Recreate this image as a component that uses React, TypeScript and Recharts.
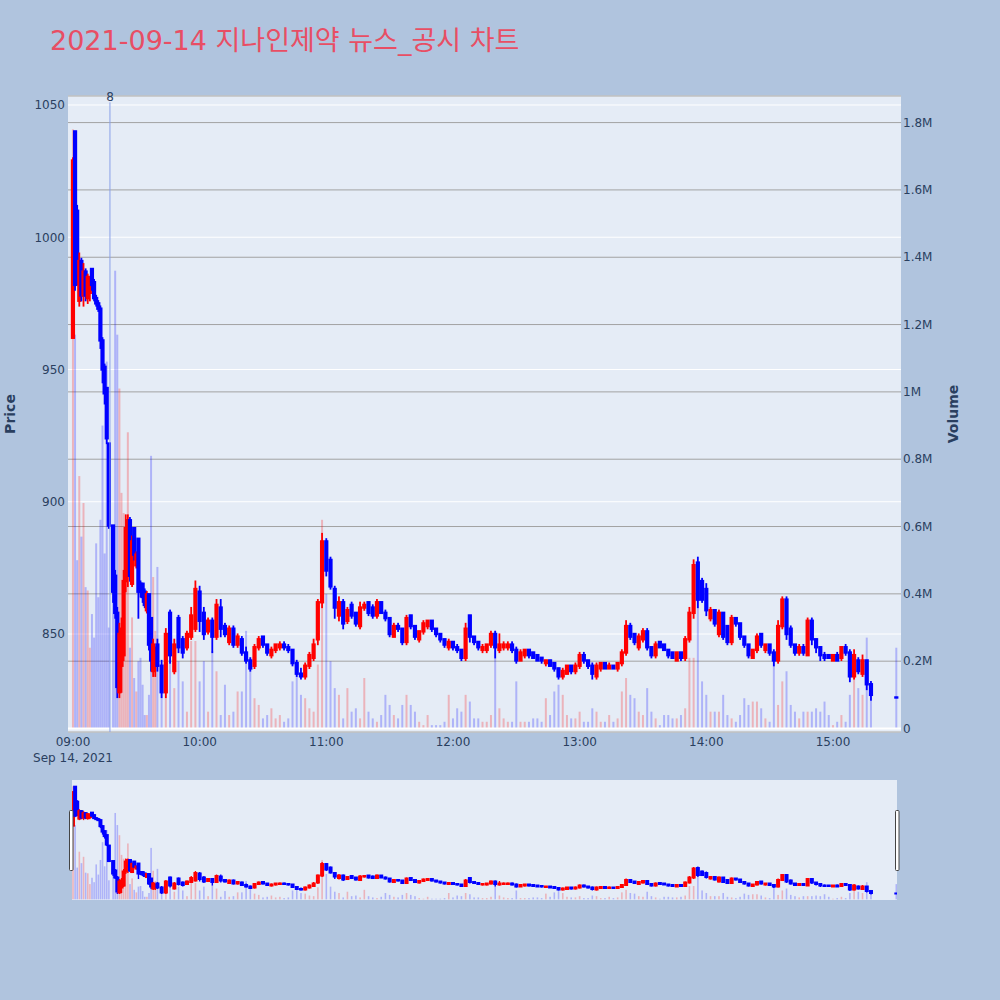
import { Bar, CartesianGrid, ComposedChart, ReferenceLine, XAxis, YAxis } from "recharts";

// minutes after 09:00 (1-min bars through the opening swing, 2-min bars after, 15:30 closing auction)
const minutes = [
  0, 1, 2, 3, 4, 5, 6, 7, 8, 9, 10, 11, 12, 13, 14, 15, 16, 17,
  19, 20, 21, 22, 23, 24, 25, 26, 27, 28, 29, 30, 31, 32, 33, 34, 35, 36, 37, 38, 39,
  40, 42, 44, 46, 48, 50, 52, 54, 56, 58,
  60, 62, 64, 66, 68, 70, 72, 74, 76, 78,
  80, 82, 84, 86, 88, 90, 92, 94, 96, 98,
  100, 102, 104, 106, 108, 110, 112, 114, 116, 118,
  120, 122, 124, 126, 128, 130, 132, 134, 136, 138,
  140, 142, 144, 146, 148, 150, 152, 154, 156, 158,
  160, 162, 164, 166, 168, 170, 172, 174, 176, 178,
  180, 182, 184, 186, 188, 190, 192, 194, 196, 198,
  200, 202, 204, 206, 208, 210, 212, 214, 216, 218,
  220, 222, 224, 226, 228, 230, 232, 234, 236, 238,
  240, 242, 244, 246, 248, 250, 252, 254, 256, 258,
  260, 262, 264, 266, 268, 270, 272, 274, 276, 278,
  280, 282, 284, 286, 288, 290, 292, 294, 296, 298,
  300, 302, 304, 306, 308, 310, 312, 314, 316, 318,
  320, 322, 324, 326, 328, 330, 332, 334, 336, 338,
  340, 342, 344, 346, 348, 350, 352, 354, 356, 358,
  360, 362, 364, 366, 368, 370, 372, 374, 376, 378,
  390,
];

const open = [
  962, 1040, 1010, 976, 991, 978, 987, 977, 979, 988, 983, 977, 975, 973, 961, 951, 943, 922,
  891, 872, 858, 828, 838, 842, 870, 880, 893, 869, 890, 876, 886, 869, 869, 866, 859, 865, 856, 836, 838,
  846, 838, 828, 858, 836, 856, 848, 845, 849, 852,
  866, 858, 851, 855, 849, 860, 853, 847, 852, 846,
  848, 843, 840, 838, 845, 849, 846, 842, 844, 845,
  846, 845, 844, 839, 835, 834, 838, 841, 848, 862,
  885, 878, 867, 857, 862, 855, 861, 858, 853, 860,
  862, 860, 857, 862, 858, 856, 849, 853, 852, 847,
  857, 853, 848, 851, 853, 855, 852, 850, 848, 845,
  847, 845, 844, 841, 857, 849, 847, 844, 844, 846,
  850, 844, 845, 845, 846, 844, 840, 842, 844, 843,
  842, 841, 839, 840, 839, 837, 834, 835, 838, 836,
  838, 842, 840, 838, 834, 837, 839, 837, 838, 837,
  839, 843, 853, 850, 845, 848, 851, 845, 842, 847,
  846, 844, 843, 840, 843, 841, 848, 858, 877, 870,
  867, 856, 859, 850, 858, 853, 847, 856, 854, 849,
  846, 841, 844, 850, 844, 846, 843, 840, 853, 863,
  852, 846, 843, 845, 842, 855, 848, 845, 842, 842,
  840, 842, 841, 845, 843, 834, 840, 835, 840, 831,
  826,
];

const high = [
  1030, 1040, 1012, 994, 992, 990, 988, 986, 985, 988, 984, 978, 976, 974, 962, 952, 943, 922,
  891, 874, 860, 854, 856, 874, 895, 895, 894, 887, 890, 881, 886, 870, 869, 867, 866, 865, 856, 848, 845,
  848, 840, 852, 859, 848, 857, 849, 851, 860, 870,
  868, 860, 856, 856, 863, 863, 854, 853, 853, 850,
  849, 845, 841, 846, 849, 849, 846, 845, 846, 847,
  847, 846, 844, 840, 837, 839, 843, 848, 863, 888,
  886, 879, 868, 864, 863, 860, 862, 858, 862, 862,
  862, 861, 863, 862, 859, 856, 854, 854, 852, 857,
  857, 853, 851, 855, 855, 855, 852, 850, 848, 848,
  847, 846, 844, 854, 857, 849, 847, 846, 846, 851,
  851, 850, 847, 847, 847, 845, 844, 844, 844, 843,
  842, 841, 840, 840, 839, 837, 837, 838, 838, 839,
  843, 843, 840, 839, 839, 839, 839, 839, 838, 839,
  844, 855, 854, 850, 850, 852, 852, 845, 847, 847,
  846, 844, 843, 843, 843, 849, 860, 878, 879, 871,
  869, 860, 859, 859, 858, 853, 857, 856, 854, 849,
  846, 844, 850, 850, 846, 846, 844, 855, 864, 864,
  853, 846, 846, 846, 856, 856, 848, 845, 843, 842,
  842, 843, 845, 846, 844, 844, 841, 842, 840, 832,
  826,
];

const low = [
  962, 980, 982, 974, 976, 974, 976, 975, 976, 980, 976, 974, 972, 958, 945, 937, 922, 890,
  862, 856, 826, 826, 828, 840, 866, 868, 870, 868, 878, 875, 856, 864, 862, 860, 858, 844, 836, 834, 834,
  836, 826, 826, 839, 835, 843, 841, 844, 848, 851,
  851, 848, 850, 843, 848, 849, 849, 846, 845, 845,
  842, 839, 836, 837, 844, 845, 842, 841, 843, 844,
  844, 843, 838, 834, 833, 833, 837, 840, 846, 860,
  872, 867, 856, 855, 852, 854, 856, 853, 852, 859,
  857, 856, 856, 858, 855, 849, 849, 851, 846, 846,
  852, 848, 847, 850, 852, 851, 849, 847, 845, 844,
  844, 843, 840, 840, 847, 846, 844, 843, 843, 845,
  841, 843, 844, 844, 843, 839, 840, 841, 841, 841,
  840, 839, 838, 838, 836, 833, 833, 835, 835, 835,
  837, 839, 837, 833, 833, 836, 837, 837, 837, 836,
  838, 842, 848, 846, 844, 847, 844, 841, 841, 845,
  844, 841, 841, 840, 840, 840, 847, 856, 860, 862,
  857, 855, 853, 849, 848, 846, 846, 853, 848, 845,
  841, 841, 843, 845, 843, 842, 838, 839, 852, 848,
  845, 842, 842, 842, 842, 846, 843, 840, 840, 841,
  840, 840, 840, 842, 832, 833, 835, 834, 829, 825,
  826,
];

const close = [
  1029, 982, 985, 991, 978, 987, 978, 985, 983, 982, 977, 975, 973, 961, 950, 941, 924, 891,
  866, 858, 830, 850, 852, 870, 890, 893, 872, 885, 880, 880, 866, 866, 864, 861, 865, 846, 840, 846, 843,
  838, 828, 850, 842, 846, 845, 843, 850, 857, 867,
  855, 850, 855, 849, 861, 852, 850, 852, 846, 849,
  843, 840, 837, 845, 848, 846, 843, 844, 846, 846,
  845, 844, 839, 835, 834, 838, 842, 846, 862, 885,
  874, 868, 860, 862, 854, 859, 857, 854, 860, 861,
  858, 857, 862, 858, 856, 850, 853, 852, 847, 856,
  853, 849, 851, 854, 855, 852, 850, 848, 846, 847,
  845, 844, 841, 852, 849, 847, 845, 845, 846, 850,
  845, 846, 846, 846, 844, 840, 843, 844, 842, 841,
  840, 840, 840, 838, 837, 834, 836, 838, 836, 838,
  842, 840, 838, 835, 838, 839, 837, 838, 837, 839,
  843, 853, 849, 847, 849, 851, 845, 842, 846, 845,
  844, 842, 841, 843, 841, 848, 858, 876, 863, 863,
  859, 859, 854, 858, 849, 847, 856, 854, 849, 846,
  842, 844, 849, 846, 846, 843, 840, 853, 863, 850,
  846, 843, 845, 843, 855, 848, 845, 842, 841, 841,
  842, 840, 845, 843, 834, 842, 836, 840, 831, 827,
  826,
];

// volume in millions of shares
const volume = [
  1.78, 1.17, 0.5, 0.75, 0.57, 0.67, 0.42, 0.41, 0.24, 0.34, 0.27, 0.55, 0.39, 0.62, 0.9, 0.52, 1.09, 0.3,
  0.45, 1.36, 1.17, 1.01, 0.7, 0.64, 0.5, 0.88, 0.24, 0.33, 0.15, 0.11, 0.2, 0.21, 0.13, 0.04, 0.04, 0.1, 0.81, 0.45, 0.29,
  0.48, 0.17, 0.14, 0.3, 0.12, 0.2, 0.14, 0.05, 0.26, 0.26,
  0.14, 0.2, 0.05, 0.23, 0.17, 0.04, 0.13, 0.04, 0.05, 0.11,
  0.11, 0.29, 0.21, 0.09, 0.07, 0.03, 0.04, 0.06, 0.03, 0.04,
  0.02, 0.03, 0.14, 0.17, 0.1, 0.09, 0.06, 0.05, 0.19, 0.62,
  0.4, 0.2, 0.12, 0.1, 0.03, 0.12, 0.05, 0.06, 0.03, 0.15,
  0.05, 0.03, 0.02, 0.04, 0.1, 0.07, 0.04, 0.03, 0.07, 0.1,
  0.07, 0.05, 0.02, 0.01, 0.04, 0.01, 0.01, 0.01, 0.02, 0.1,
  0.03, 0.06, 0.05, 0.1, 0.08, 0.03, 0.03, 0.02, 0.02, 0.04,
  0.29, 0.06, 0.03, 0.02, 0.02, 0.14, 0.02, 0.02, 0.02, 0.03,
  0.03, 0.02, 0.09, 0.04, 0.11, 0.13, 0.1, 0.04, 0.03, 0.03,
  0.05, 0.02, 0.02, 0.06, 0.05, 0.02, 0.02, 0.04, 0.02, 0.03,
  0.11, 0.15, 0.1, 0.09, 0.05, 0.04, 0.12, 0.05, 0.03, 0.01,
  0.04, 0.04, 0.03, 0.03, 0.04, 0.06, 0.21, 0.21, 0.4, 0.14,
  0.1, 0.05, 0.05, 0.05, 0.1, 0.04, 0.03, 0.02, 0.04, 0.09,
  0.07, 0.08, 0.08, 0.06, 0.03, 0.02, 0.2, 0.07, 0.14, 0.17,
  0.07, 0.05, 0.03, 0.05, 0.05, 0.05, 0.06, 0.05, 0.08, 0.04,
  0.01, 0.02, 0.04, 0.02, 0.1, 0.15, 0.12, 0.1, 0.27, 0.1,
  0.24,
];

const priceTicks = [850, 900, 950, 1000, 1050];
const volumeTicks = [0, 0.2, 0.4, 0.6, 0.8, 1, 1.2, 1.4, 1.6, 1.8];
const timeTicks = [0, 60, 120, 180, 240, 300, 360];
const newsMinute = 17.5;
const newsLabel = "8";

const PRICE_DOMAIN: [number, number] = [812.95, 1053.4];
const VOL_DOMAIN: [number, number] = [-0.0104, 1.879];
const UP = "#ff0000";
const DOWN = "#0000ff";
const INK = "#2a3f5f";
const FONT = "'DejaVu Sans', 'Noto Sans CJK KR', sans-serif";

const rows = minutes.map((t, i) => ({
  t,
  open: open[i],
  high: high[i],
  low: low[i],
  close: close[i],
  range: [low[i], high[i]],
  vol: volume[i],
  up: close[i] > open[i],
}));

function hhmm(m: number) {
  const h = 9 + Math.floor(m / 60);
  const mm = m % 60;
  return `${String(h).padStart(2, "0")}:${String(mm).padStart(2, "0")}`;
}

function fmtVol(v: number) {
  if (v === 0) return "0";
  return `${Number(v.toFixed(1))}M`;
}

// plotly-like candle: thick outline makes the body spill ~1px past open/close
function candleShape(bodyW: number, wickW: number, pad: number) {
  return (props: any) => {
    const { x, y, width, height, payload } = props;
    if (x == null || y == null || !payload) return <g />;
    const cx = x + width / 2;
    const top = Math.min(y, y + height);
    const h = Math.abs(height);
    const span = payload.high - payload.low;
    const k = span > 0 ? h / span : 0;
    const color = payload.up ? UP : DOWN;
    const bTop = top + (payload.high - Math.max(payload.open, payload.close)) * k - pad;
    const bBot = top + (payload.high - Math.min(payload.open, payload.close)) * k + pad;
    return (
      <g>
        <rect x={cx - wickW / 2} y={top - pad / 2} width={wickW} height={h + pad} fill={color} />
        <rect x={cx - bodyW / 2} y={bTop} width={bodyW} height={bBot - bTop} fill={color} />
      </g>
    );
  };
}

function volumeShape(w: number) {
  return (props: any) => {
    const { x, y, width, height, payload } = props;
    if (x == null || y == null || !payload) return <g />;
    const cx = x + width / 2;
    return (
      <rect
        x={cx - w / 2}
        y={Math.min(y, y + height)}
        width={w}
        height={Math.abs(height)}
        fill={payload.up ? UP : DOWN}
        fillOpacity={0.24}
      />
    );
  };
}

function TimeTick(props: any) {
  const { x, y, payload } = props;
  return (
    <g>
      <text x={x} y={y + 10} textAnchor="middle" fill={INK} fontSize={12} fontFamily={FONT}>
        {hhmm(payload.value)}
      </text>
      {payload.value === 0 && (
        <text x={x} y={y + 26} textAnchor="middle" fill={INK} fontSize={12} fontFamily={FONT}>
          Sep 14, 2021
        </text>
      )}
    </g>
  );
}

const mainCandle = candleShape(4.2, 1.8, 1.2);
const mainVolume = volumeShape(2);
const sliderCandle = candleShape(4, 1.4, 1);
const sliderVolume = volumeShape(1.6);

export default function App() {
  return (
    <div style={{ position: "fixed", left: 0, top: 0, width: 1000, height: 1000, background: "#b0c4de", overflow: "hidden" }}>
      <div style={{ position: "absolute", left: 0, top: 0 }}>
        <ComposedChart width={1000} height={790} data={rows} margin={{ top: 96, right: 39, bottom: 28, left: 8 }}>
          <XAxis
            xAxisId="xc"
            dataKey="t"
            type="number"
            domain={[-2.37, 392.2]}
            ticks={timeTicks}
            interval={0}
            allowDataOverflow
            axisLine={false}
            tickLine={false}
            tickSize={0}
            tickMargin={4}
            height={30}
            tick={<TimeTick />}
          />
          <XAxis xAxisId="xv" dataKey="t" type="number" domain={[-2.37, 392.2]} hide allowDataOverflow />
          <YAxis
            yAxisId="yp"
            orientation="left"
            domain={PRICE_DOMAIN}
            ticks={priceTicks}
            allowDataOverflow
            width={60}
            axisLine={false}
            tickLine={false}
            tickSize={0}
            tickMargin={3}
            tick={{ fill: INK, fontSize: 12, fontFamily: FONT }}
          />
          <YAxis
            yAxisId="yv"
            orientation="right"
            domain={VOL_DOMAIN}
            ticks={volumeTicks}
            allowDataOverflow
            width={60}
            axisLine={false}
            tickLine={false}
            tickSize={0}
            tickMargin={2}
            tickFormatter={fmtVol}
            tick={{ fill: INK, fontSize: 12, fontFamily: FONT }}
          />
          <CartesianGrid xAxisId="xc" yAxisId="yp" vertical={false} stroke="#ffffff" fill="#e5ecf6" fillOpacity={1} />
          <CartesianGrid xAxisId="xc" yAxisId="yv" vertical={false} stroke="#a2a2a2" />
          <ReferenceLine xAxisId="xc" yAxisId="yv" y={0} stroke="#ffffff" strokeWidth={2} />
          <Bar xAxisId="xv" yAxisId="yv" dataKey="vol" barSize={2} shape={mainVolume} isAnimationActive={false} />
          <Bar xAxisId="xc" yAxisId="yp" dataKey="range" barSize={2} shape={mainCandle} isAnimationActive={false} />
          <ReferenceLine
            xAxisId="xc"
            yAxisId="yp"
            segment={[
              { x: newsMinute, y: PRICE_DOMAIN[0] },
              { x: newsMinute, y: 1051 },
            ]}
            stroke="#8aa0e8"
            strokeWidth={1}
          />
        </ComposedChart>
      </div>

      <div style={{ position: "absolute", left: 0, top: 780 }}>
        <ComposedChart width={1000} height={120} data={rows} margin={{ top: 0, right: 103, bottom: 0, left: 72 }}>
          <XAxis xAxisId="sc" dataKey="t" type="number" domain={[-0.5, 390.3]} hide allowDataOverflow />
          <XAxis xAxisId="sv" dataKey="t" type="number" domain={[-0.5, 390.3]} hide allowDataOverflow />
          <YAxis yAxisId="sp" domain={PRICE_DOMAIN} hide allowDataOverflow />
          <YAxis yAxisId="sy" domain={VOL_DOMAIN} hide allowDataOverflow />
          <CartesianGrid xAxisId="sc" yAxisId="sp" horizontal={false} vertical={false} fill="#e5ecf6" fillOpacity={1} />
          <Bar xAxisId="sv" yAxisId="sy" dataKey="vol" barSize={2} shape={sliderVolume} isAnimationActive={false} />
          <Bar xAxisId="sc" yAxisId="sp" dataKey="range" barSize={2} shape={sliderCandle} isAnimationActive={false} />
        </ComposedChart>
      </div>

      <svg width={1000} height={1000} style={{ position: "absolute", left: 0, top: 0, pointerEvents: "none" }}>
        <text x={50} y={50} fill="#e84e64" fontSize={27} fontFamily={FONT}>
          2021-09-14 지나인제약 뉴스_공시 차트
        </text>
        <text x={110} y={101} textAnchor="middle" fill={INK} fontSize={12} fontFamily={FONT}>
          {newsLabel}
        </text>
        <text transform="translate(15,414) rotate(-90)" textAnchor="middle" fill={INK} fontSize={14} fontWeight="bold" fontFamily={FONT}>
          Price
        </text>
        <text transform="translate(958,414) rotate(-90)" textAnchor="middle" fill={INK} fontSize={14} fontWeight="bold" fontFamily={FONT}>
          Volume
        </text>
        <rect x={69.5} y={810.5} width={3.5} height={60} fill="#ffffff" stroke="#444444" strokeWidth={1} rx={1} />
        <rect x={895.5} y={810.5} width={3.5} height={60} fill="#ffffff" stroke="#444444" strokeWidth={1} rx={1} />
      </svg>
    </div>
  );
}
